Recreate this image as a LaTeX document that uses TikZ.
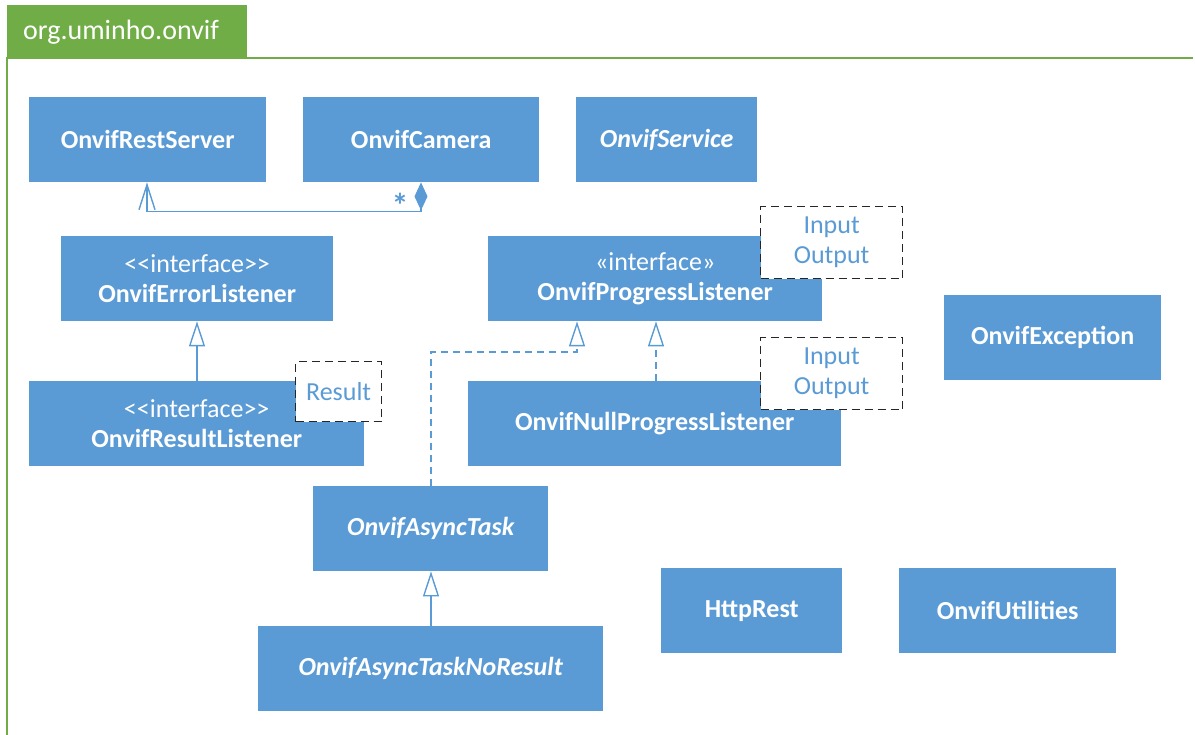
\documentclass[tikz,border=0pt]{standalone}
\usepackage{fontspec}
\setmainfont{Carlito}[Ligatures=TeXOff]
\usetikzlibrary{arrows.meta,calc}
\definecolor{umlblue}{HTML}{5B9BD5}
\definecolor{pkggreen}{HTML}{70AD47}
\begin{document}
\begin{tikzpicture}[x=1pt,y=-1pt,
  cls/.style={fill=umlblue,draw=none,text=white,anchor=north west,align=center,inner sep=0pt,
    font=\fontsize{26}{30}\selectfont},
  note/.style={fill=white,draw=black!85,dash pattern=on 8pt off 5pt,line width=1.3pt,anchor=north west,
    text=umlblue,align=center,inner sep=0pt,font=\fontsize{26}{30}\selectfont},
  conn/.style={draw=umlblue,line width=1.4pt},
  dconn/.style={conn,dash pattern=on 7pt off 5pt},
  gen/.style={-{Triangle[open,length=25pt,width=16pt,line width=1.4pt]}}
]
\useasboundingbox (0,0) rectangle (1195,735);
% package
\node[fill=pkggreen,anchor=north west,minimum width=240pt,minimum height=53pt,inner sep=0pt] (tab) at (7,5) {};
\node[text=white,anchor=west,inner sep=0pt,font=\fontsize{28}{30}\selectfont] (tabtxt) at (23,32) {org.uminho.onvif};
\draw[pkggreen,line width=1.3pt] (7,735) -- (7,58) -- (1193,58);
% classes
\node[cls,minimum width=237pt,minimum height=85pt] (rest) at (29,97) {\bfseries OnvifRestServer};
\node[cls,minimum width=236pt,minimum height=85pt] (cam) at (303,97) {\bfseries OnvifCamera};
\node[cls,minimum width=181pt,minimum height=85pt] (serv) at (576,97) {\bfseries\itshape OnvifService};
\node[cls,minimum width=272pt,minimum height=85pt] (err) at (61,236) {<<interface>>\\\bfseries OnvifErrorListener};
\node[cls,minimum width=334pt,minimum height=85pt] (prog) at (488,236) {«interface»\\\bfseries OnvifProgressListener};
\node[cls,minimum width=217pt,minimum height=85pt] (exc) at (944,295) {\bfseries OnvifException};
\node[cls,minimum width=335pt,minimum height=85pt] (res) at (29,381) {<<interface>>\\\bfseries OnvifResultListener};
\node[cls,minimum width=373pt,minimum height=85pt] (null) at (468,381) {\bfseries OnvifNullProgressListener};
\node[cls,minimum width=235pt,minimum height=85pt] (async) at (313,486) {\bfseries\itshape OnvifAsyncTask};
\node[cls,minimum width=181pt,minimum height=85pt] (http) at (661,568) {\bfseries HttpRest};
\node[cls,minimum width=217pt,minimum height=85pt] (util) at (899,568) {\bfseries OnvifUtilities};
\node[cls,minimum width=345pt,minimum height=85pt] (nores) at (258,626) {\bfseries\itshape OnvifAsyncTaskNoResult};
% notes
\node[note,minimum width=142pt,minimum height=72pt] (n1) at (760,206) {Input\\Output};
\node[note,minimum width=142pt,minimum height=72pt] (n2) at (760,337) {Input\\Output};
\node[note,minimum width=86pt,minimum height=60pt] (n3) at (295,361) {Result};
% connectors
\draw[conn,{Straight Barb[length=25pt,width=16pt,line width=1.4pt]}-{Diamond[length=28pt,width=13pt]}]
  ($(rest.south west)+(118,0)$) -- ++(0,29) -| ($(cam.south west)+(118,0)$);
\node[text=umlblue,font=\fontsize{34}{34}\selectfont\bfseries] (star) at (400,205) {*};
\draw[conn,gen] ($(res.north west)+(168,0)$) -- ($(err.south west)+(136,0)$);
\draw[dconn,gen] ($(async.north west)+(118,0)$) -- ++(0,-134) -| ($(prog.south west)+(89,0)$);
\draw[dconn,gen] ($(null.north west)+(188,0)$) -- ($(prog.south west)+(168,0)$);
\draw[conn,gen] ($(nores.north west)+(173,0)$) -- ($(async.south west)+(118,0)$);
\end{tikzpicture}
\end{document}
